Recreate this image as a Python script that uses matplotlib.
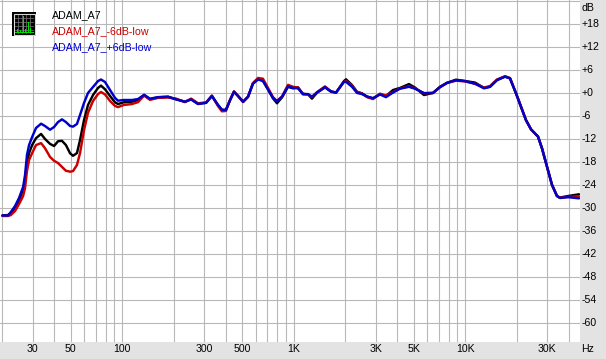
import matplotlib
matplotlib.use("Agg")
import matplotlib.pyplot as plt
from matplotlib.patches import Rectangle
from matplotlib.ticker import FixedLocator, NullFormatter, NullLocator
import numpy as np

plt.rcParams['font.family'] = ['Liberation Sans', 'DejaVu Sans']

freq_hz = [20, 21.6, 22.4, 23.7, 25.0, 26.4, 27.1, 27.8, 28.6, 29.8, 31.4, 33.6, 35.4, 37.9, 40.0, 42.2, 44.5,
           46.9, 49.6, 51.6, 54.4, 56.7, 59.8, 63.1, 67.5, 72.2, 75.1, 79.3, 84.8, 90.7, 94.4, 102, 114, 123.5,
           134, 145, 161.5, 185, 206, 232, 252, 276, 308, 333, 361, 381, 402, 425, 448, 473, 506, 541, 578, 619,
           661, 707, 756, 798, 854, 925, 989, 1058, 1131, 1210, 1276, 1365, 1520, 1648, 1763, 1962, 2016, 2185,
           2336, 2499, 2672, 2896, 3181, 3448, 3788, 4160, 4696, 5090, 5744, 6483, 7120, 7822, 8826, 9961, 11390,
           12855, 13935, 15300, 17040, 18225, 19750, 21120, 22590, 24160, 26550, 28000, 29950, 32030, 34250,
           35650, 39700, 46030]

adam_a7 = [-31.88, -31.75, -31.2, -29.85, -27.85, -25.2, -22.6, -18.2, -15.6, -13.5, -11.7, -10.6, -11.9, -13.2,
           -13.75, -12.5, -12.4, -13.5, -15.65, -16.3, -15.6, -12.2, -7, -3.05, -.45, 1.4, 2, 1.05, -.7, -2.35,
           -2.8, -2.35, -2.2, -1.75,
           -.45, -1.55, -1.05, -.9, -1.55, -2.2, -1.55, -2.7, -2.45, -.7, -3.05, -4.35, -4.35, -1.75, .4, -.7,
           -2.2, -.9, 2.6, 3.75, 3.3, 1.05, -1.3, -2.6, -1.05, 1.7, 1.3, 1.55, -.25, -.25, -1.4, .15, 1.55, .4,
           .15, 3.2, 3.65, 2.15, .4, 0, -.9, -1.3, -.2, -.7, .85, 1.4, 2.4, 1.5, -.45, .1, 1.7, 2.75, 3.55, 3.2,
           2.8, 1.4, 1.7, 3.45, 4.35, 3.9,
           0, -3.5, -7, -9.4, -11.3, -14.35, -19.15, -23.9, -26.8, -27.2, -26.8, -26.35]

adam_minus6 = [-32, -32, -31.75, -30.7, -28.9, -26.8, -24.7, -20.3, -17.4, -15.6, -13.5, -13, -14.3, -16.6, -17.6,
               -18.2, -19.2, -20.2, -20.45, -20.3, -18.7, -15.6, -9.6, -5.1, -2, -.2, .35, -.3, -2, -3.3, -3.6,
               -3.05, -2.8, -2.3,
               -.6, -1.7, -1.2, -1.1, -1.4, -2.3, -1.4, -2.6, -2.4, -.6, -3.3, -4.7, -4.6, -1.7, .5, -.7, -2.3,
               -.9, 2.7, 4, 3.8, 1.4, -1, -2, -.8, 2.2, 1.7, 1.5, -.1, -.3, -1, .3, 1.8, .5, .2, 3, 3.2, 2, .4,
               -.1, -1, -1.5, -.1, -.6, .3, 1.3, 1.8, 1.3, 0, .1, 1.6, 2.7, 3.3, 3.1, 2.5, 1.5, 1.9, 3.6, 4.45, 4,
               0, -3.5, -7, -9.4, -11.3, -14.35, -19.15, -23.9, -26.8, -27.3, -27, -26.9]

adam_plus6 = [-31.88, -31.88, -30.97, -29.4, -27.3, -24.45, -21.3, -16.1, -13.5, -11.4, -9.05, -7.93, -8.53, -9.5,
              -8.8, -7.5, -6.8, -7.5, -8.53, -8.7, -8, -5.66, -2.53, .08, 1.64, 3.2, 3.6, 2.95, .86, -1.2, -1.93,
              -1.75, -1.75, -1.5,
              -.4, -1.4, -1, -.9, -1.6, -2.2, -1.6, -2.8, -2.5, -.7, -3, -4.3, -4.3, -1.8, .4, -.7, -2.2, -.9,
              2.5, 3.6, 3.2, 1, -1.2, -2.1, -.9, 1.8, 1.4, 1.3, -.2, -.2, -.9, .2, 1.6, .5, .2, 3, 3, 1.7, .1,
              -.2, -.8, -1.3, -.3, -1, .2, 1.2, 1.7, 1.2, .05, .1, 1.6, 2.7, 3.4, 3.2, 2.5, 1.3, 1.7, 3.45, 4.35,
              3.9,
              0, -3.5, -7, -9.4, -11.3, -14.35, -19.15, -23.9, -26.8, -27.3, -27.1, -27.4]

series_names = ['ADAM_A7', 'ADAM_A7_-6dB-low', 'ADAM_A7_+6dB-low']
series_colors = ['#000000', '#cc0000', '#0000cc']
db_ticks = [18, 12, 6, 0, -6, -12, -18, -24, -30, -36, -42, -48, -54, -60]
db_labels = ['+18', '+12', '+6', '+0', '-6', '-12', '-18', '-24', '-30', '-36', '-42', '-48', '-54', '-60']
hz_ticks = [30, 50, 100, 300, 500, 1000, 3000, 5000, 10000, 30000]
hz_labels = ['30', '50', '100', '300', '500', '1K', '3K', '5K', '10K', '30K']
hz_grid = [20, 30, 40, 50, 60, 70, 80, 90, 100, 200, 300, 400, 500, 600, 700, 800, 900, 1000,
           2000, 3000, 4000, 5000, 6000, 7000, 8000, 9000, 10000, 20000, 30000, 40000]

W, H = 606, 359
PAD = 171.5
fig = plt.figure(figsize=(W / 100, H / 100), dpi=100, facecolor='#e3e3e3')
ax = fig.add_axes([0, 1 - 342 / H, 580 / W, 342 / H], facecolor='white')
ax.set_xscale('log')
ax.set_xlim(100 * 10 ** (-122.3 / PAD), 100 * 10 ** ((580 - 122.3) / PAD))
ax.set_ylim(-(342 - 93.3) / 3.833, 93.3 / 3.833)
for s in ax.spines.values():
    s.set_visible(False)
grid_col = '#b8b8b8'
ax.xaxis.set_major_locator(FixedLocator(hz_grid))
ax.xaxis.set_minor_locator(NullLocator())
ax.xaxis.set_major_formatter(NullFormatter())
ax.yaxis.set_major_locator(FixedLocator(db_ticks + [24]))
ax.yaxis.set_major_formatter(NullFormatter())
ax.tick_params(length=0)
ax.grid(True, color=grid_col, lw=0.8)
ax.set_axisbelow(True)

for vals, col in zip([adam_a7, adam_minus6, adam_plus6], series_colors):
    ax.plot(freq_hz, vals, color=col, lw=1.75, solid_joinstyle='round', solid_capstyle='round', clip_on=True)

FS = 7.6
def xpx(f):
    return ax.transData.transform((f, 0))[0]
def ypx(v):
    return ax.transData.transform((1000, v))[1]

for f, lab in zip(hz_ticks, hz_labels):
    fig.text(xpx(f) / W, 1 - 349 / H, lab, ha='center', va='center', fontsize=FS, color='black')
for v, lab in zip(db_ticks, db_labels):
    fig.text(581.5 / W, ypx(v) / H, lab, ha='left', va='center', fontsize=FS, color='black')
fig.text(581.5 / W, 1 - 8 / H, 'dB', ha='left', va='center', fontsize=FS, color='black')
fig.text(581.5 / W, 1 - 349 / H, 'Hz', ha='left', va='center', fontsize=FS, color='black')

for i, (name, col) in enumerate(zip(series_names, series_colors)):
    fig.text(52 / W, 1 - (15 + 16 * i) / H, name, ha='left', va='center', fontsize=FS + 0.1, color=col)

# small analyzer icon
icon = fig.add_axes([12 / W, 1 - 36 / H, 24 / W, 24 / H], facecolor='#000000')
icon.set_xlim(0, 24)
icon.set_ylim(24, 0)
icon.set_xticks([]); icon.set_yticks([])
for s in icon.spines.values():
    s.set_visible(False)
icon.add_patch(Rectangle((1.5, 1.5), 21, 21, fc='none', ec='#d8d8d8', lw=0.8))
for p in [6, 10, 14, 18]:
    icon.plot([p, p], [3, 21], color='#707070', lw=0.55)
    icon.plot([3, 21], [p, p], color='#707070', lw=0.55)
for x0, top in [(5, 17), (8, 18), (11, 4), (13, 17), (16, 10), (18, 16)]:
    icon.plot([x0, x0], [top, 20], color='#00e000', lw=0.75)
icon.plot([3, 21], [20, 20], color='#00e000', lw=0.7)

fig.savefig('out.png', dpi=100, facecolor=fig.get_facecolor())
